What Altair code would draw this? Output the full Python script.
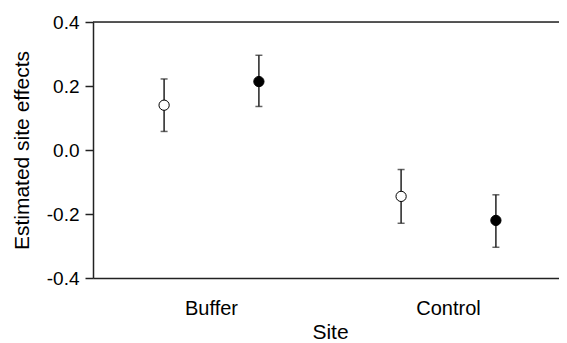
import altair as alt
import pandas as pd

sites = ["Buffer", "Buffer", "Control", "Control"]
groups = ["Open", "Filled", "Open", "Filled"]
estimate = [0.140, 0.214, -0.145, -0.220]
lower = [0.058, 0.136, -0.229, -0.304]
upper = [0.222, 0.296, -0.061, -0.140]
y_ticks = [-0.4, -0.2, 0.0, 0.2, 0.4]

df = pd.DataFrame({"site": sites, "group": groups, "est": estimate, "lo": lower, "hi": upper})

W, H = 466, 256
XR = 474
INK = "#222222"
FONT = "Liberation Sans"

x_enc = alt.X("site:N", title="Site",
              scale=alt.Scale(paddingInner=0, paddingOuter=0, range=[0, XR]),
              axis=alt.Axis(labelAngle=0, ticks=False, domain=True, domainColor=INK,
                            domainWidth=1.5, labelPadding=20, labelFontSize=20,
                            labelColor="black", titleFontSize=21, titleColor="black",
                            titleFontWeight="normal", titlePadding=3, grid=False,
                            titleX=237))
xo = alt.XOffset("group:N", sort=["Open", "Filled"],
                 scale=alt.Scale(type="point", padding=0.75))

y_scale = alt.Scale(domain=[-0.4, 0.4], nice=False, zero=False)
y_axis = alt.Axis(values=y_ticks, grid=False, domainColor=INK, domainWidth=1.5,
                  tickColor=INK, tickWidth=1.5, tickSize=8, labelPadding=6,
                  labelFontSize=19, labelColor="black",
                  labelExpr="datum.value < 0 ? '-' + format(-datum.value, '.1f') : format(datum.value, '.1f')",
                  titleFontSize=21, titleColor="black", titleFontWeight="normal",
                  titlePadding=14)

base = alt.Chart(df)

rules = base.mark_rule(color=INK, strokeWidth=1.5).encode(
    x=x_enc, xOffset=xo,
    y=alt.Y("lo:Q", scale=y_scale, axis=y_axis, title="Estimated site effects"),
    y2="hi:Q")

caps_lo = base.mark_tick(color=INK, size=7, thickness=1.5).encode(
    x=x_enc, xOffset=xo, y=alt.Y("lo:Q", scale=y_scale))
caps_hi = base.mark_tick(color=INK, size=7, thickness=1.5).encode(
    x=x_enc, xOffset=xo, y=alt.Y("hi:Q", scale=y_scale))

points = base.mark_point(filled=True, size=105, stroke="black", strokeWidth=1, opacity=1).encode(
    x=x_enc, xOffset=xo, y=alt.Y("est:Q", scale=y_scale),
    fill=alt.Fill("group:N", scale=alt.Scale(domain=["Open", "Filled"], range=["white", "black"]),
                  legend=None))

top_line = alt.Chart(pd.DataFrame({"k": [0]})).mark_rule(color=INK, strokeWidth=1.5).encode(
    x=alt.value(0), x2=alt.value(XR), y=alt.value(0))

chart = alt.layer(rules, caps_lo, caps_hi, points, top_line).properties(
    width=W, height=H,
    padding={"left": 85, "top": 14, "right": 0, "bottom": 65},
    autosize=alt.AutoSizeParams(type="none"),
).configure_view(stroke=None).configure(font=FONT)

chart.save("out.html", embed_options={"renderer": "svg", "actions": False})
